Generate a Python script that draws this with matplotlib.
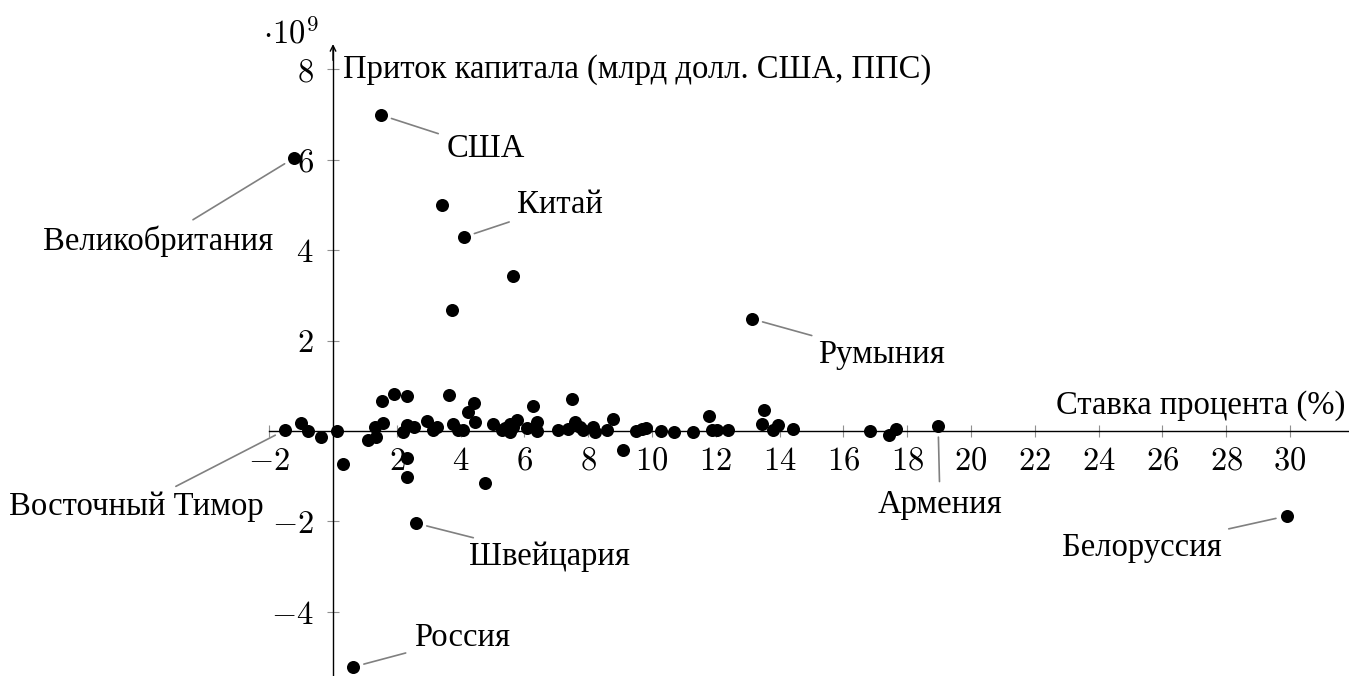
import numpy as np
import matplotlib.pyplot as plt

plt.rcParams['font.family'] = ['Liberation Serif', 'DejaVu Serif']
plt.rcParams['mathtext.fontset'] = 'cm'

# labelled countries: interest rate (%), capital inflow (10^9 USD PPP)
countries = ['США', 'Великобритания', 'Китай', 'Румыния', 'Россия',
             'Швейцария', 'Белоруссия', 'Армения', 'Восточный Тимор']
country_rate = [1.5, -1.22, 4.1, 13.13, 0.63, 2.6, 29.9, 18.97, -1.5]
country_flow = [6.99, 6.04, 4.29, 2.48, -5.22, -2.04, -1.88, 0.11, 0.02]

# label centres (data coords)
label_x = [4.78, -5.49, 7.12, 17.21, 4.04, 6.8, 25.36, 19.03, -6.18]
label_y = [6.24, 4.2, 5.0, 1.68, -4.58, -2.79, -2.59, -1.64, -1.68]

# everything else
rate = [3.42, 5.64, 3.73,
        0.31, 2.32, 2.32, 4.76, 9.09,
        -1.0, -0.78, -0.38, 0.12, 1.1, 1.35, 1.32, 1.57, 1.54, 1.91, 2.32,
        2.19, 2.32, 2.54, 2.95, 3.13, 3.26, 3.64, 3.76, 3.92, 4.08, 4.23,
        4.42, 4.45, 5.02, 5.3, 5.4, 5.55, 5.55, 5.64, 5.77, 6.08, 6.27,
        6.39, 6.39, 7.05, 7.37, 7.49, 7.59, 7.74, 7.84, 8.15, 8.21, 8.59,
        8.78, 9.5, 9.69, 9.81, 10.28, 10.69, 11.29, 11.79, 11.88, 12.04,
        12.38, 13.45, 13.51, 13.79, 13.95, 14.42, 16.83, 17.43, 17.65]
flow = [5.0, 3.43, 2.68,
        -0.73, -0.6, -1.02, -1.15, -0.42,
        0.18, 0.0, -0.13, 0.0, -0.2, -0.13, 0.09, 0.18, 0.66, 0.82, 0.78,
        -0.02, 0.13, 0.09, 0.22, 0.02, 0.09, 0.8, 0.15, 0.02, 0.02, 0.42,
        0.62, 0.2, 0.15, 0.02, 0.07, -0.02, 0.15, 0.09, 0.24, 0.07, 0.55,
        0.2, 0.0, 0.02, 0.04, 0.71, 0.2, 0.09, 0.02, 0.09, -0.02, 0.02,
        0.27, 0.0, 0.04, 0.07, 0.0, -0.02, -0.02, 0.33, 0.02, 0.02,
        0.02, 0.15, 0.46, 0.02, 0.13, 0.04, 0.0, -0.09, 0.04]

xticks = [-2] + list(range(2, 31, 2))
yticks = [-4, -2, 2, 4, 6, 8]

FS = 23.5

fig = plt.figure(figsize=(13.49, 6.76), dpi=100)
ax = fig.add_axes([0, 0, 1, 1])
ax.set_xlim(-10.44, 31.85)
ax.set_ylim(-5.42, 9.535)

ax.scatter(rate, flow, s=88, color='black', zorder=3, linewidths=0)
ax.scatter(country_rate, country_flow, s=88, color='black', zorder=3, linewidths=0)

for name, px, py, lx, ly in zip(countries, country_rate, country_flow, label_x, label_y):
    ax.annotate(name, xy=(px, py), xytext=(lx, ly), ha='center', va='center',
                fontsize=FS,
                arrowprops=dict(arrowstyle='-', color='#808080', lw=1.2,
                                shrinkA=4, shrinkB=8))

# middle axis lines
for s in ['top', 'right']:
    ax.spines[s].set_visible(False)
ax.spines['left'].set_position(('data', 0))
ax.spines['bottom'].set_position(('data', 0))
ax.spines['left'].set_bounds(-5.42, 8.5)
ax.spines['bottom'].set_bounds(-2, 31.85)
ax.spines['left'].set_linewidth(1.0)
ax.spines['bottom'].set_linewidth(1.0)
ax.annotate('', xy=(0, 8.56), xytext=(0, 8.2),
            arrowprops=dict(arrowstyle='->', lw=1.0, color='black',
                            shrinkA=0, shrinkB=0))

ax.set_xticks(xticks)
ax.set_xticklabels(['$%d$' % t for t in xticks])
ax.set_yticks(yticks)
ax.set_yticklabels(['$%d$' % t for t in yticks])
ax.tick_params(axis='both', direction='inout', length=8, width=0.8,
               color='#909090', labelsize=FS)
ax.tick_params(axis='x', pad=7)
ax.tick_params(axis='y', pad=10)

ax.annotate('Приток капитала (млрд долл. США, ППС)', xy=(0, 8), xytext=(10, 0),
            textcoords='offset pixels', ha='left', va='center', fontsize=FS)
ax.annotate('Ставка процента (%)', xy=(31.85, 0), xytext=(-4, 10),
            textcoords='offset pixels', ha='right', va='bottom', fontsize=FS)
ax.annotate(r'$\cdot 10^9$', xy=(0, 8.56), xytext=(-14, -6),
            textcoords='offset pixels', ha='right', va='bottom', fontsize=FS)

fig.savefig('out.png', dpi=100)
